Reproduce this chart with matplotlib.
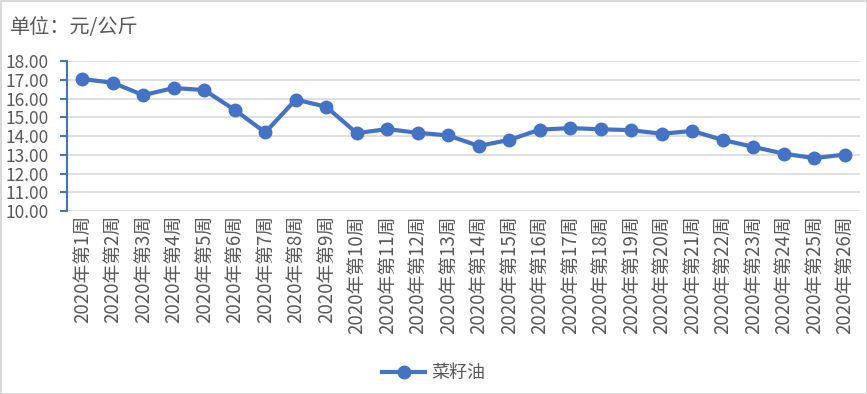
import matplotlib.pyplot as plt
import matplotlib.patches as patches

plt.rcParams['font.family'] = ['Noto Sans CJK SC', 'DejaVu Sans']

weeks = ['2020年第%d周' % i for i in range(1, 27)]
prices = [17.04, 16.84, 16.18, 16.56, 16.45, 15.39, 14.19, 15.94, 15.56, 14.15,
          14.37, 14.17, 14.03, 13.47, 13.79, 14.34, 14.42, 14.36, 14.31, 14.12,
          14.27, 13.79, 13.42, 13.06, 12.82, 13.01]
yticks = [10, 11, 12, 13, 14, 15, 16, 17, 18]

blue = '#4472C4'
grey = '#595959'

fig = plt.figure(figsize=(8.67, 3.94), dpi=100)
ax = fig.add_axes([67 / 867, 1 - 211 / 394, 793 / 867, 150 / 394])

x = list(range(len(weeks)))
ax.plot(x, prices, '-o', color=blue, linewidth=3, markersize=9, label='菜籽油')

ax.set_xlim(-0.5, len(weeks) - 0.5)
ax.set_ylim(10, 18)
ax.set_yticks(yticks)
ax.set_yticklabels(['%.2f' % v for v in yticks], fontsize=12.5, color=grey)
ax.set_xticks(x)
ax.set_xticklabels(weeks, rotation=90, fontsize=13.5, color=grey)
ax.grid(axis='y', color='#d9d9d9', linewidth=1.2)
ax.set_axisbelow(True)
for s in ['top', 'right', 'bottom']:
    ax.spines[s].set_visible(False)
ax.spines['left'].set_color(blue)
ax.spines['left'].set_linewidth(1.5)
ax.tick_params(axis='y', colors=blue, length=5, width=1.5, labelcolor=grey, pad=8)
ax.tick_params(axis='x', length=0, pad=3)

fig.text(10 / 867, 1 - 28 / 394, '单位：元/公斤', fontsize=14.5, color=grey, va='center')

leg = fig.legend(loc='center', bbox_to_anchor=(0.5, 1 - 373 / 394), frameon=False,
                 fontsize=13, handlelength=2.4, handletextpad=0.3)
for t in leg.get_texts():
    t.set_color(grey)

fig.patches.append(patches.Rectangle((0.5 / 867, 0.5 / 394), 1 - 1 / 867, 1 - 1 / 394,
                                     transform=fig.transFigure, fill=False,
                                     edgecolor='#d9d9d9', linewidth=1.5))

fig.savefig('out.png', dpi=100)
